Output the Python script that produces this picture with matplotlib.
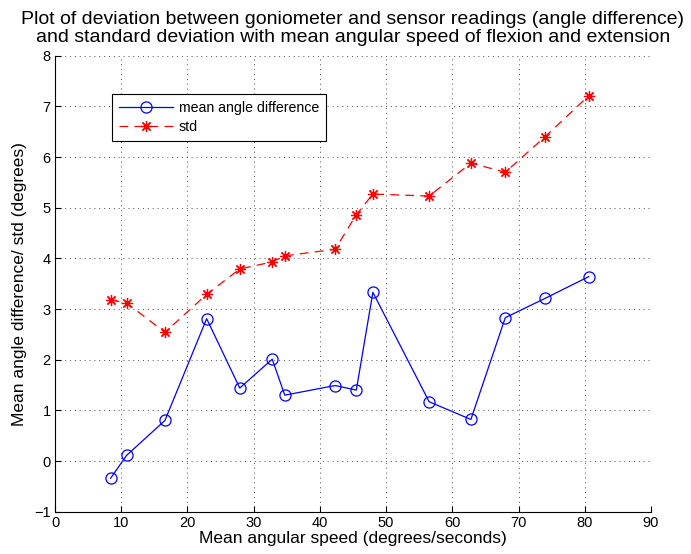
import matplotlib
matplotlib.use("Agg")
import matplotlib.pyplot as plt

plt.rcParams['font.family'] = ['Liberation Sans', 'DejaVu Sans']

# mean angular speed of flexion/extension (deg/s)
speed = [8.4, 10.8, 16.6, 22.9, 27.9, 32.8, 34.7, 42.3, 45.5, 48.0,
         56.5, 62.8, 68.0, 74.0, 80.6]
# mean angle difference between goniometer and sensor (deg)
mean_diff = [-0.34, 0.11, 0.80, 2.81, 1.44, 2.01, 1.30, 1.49, 1.40, 3.33,
             1.17, 0.82, 2.83, 3.21, 3.64]
# standard deviation of the difference (deg)
std_diff = [3.18, 3.12, 2.54, 3.29, 3.79, 3.93, 4.05, 4.18, 4.86, 5.27,
            5.23, 5.88, 5.70, 6.40, 7.21]

xticks = list(range(0, 91, 10))
yticks = list(range(-1, 9))

fig = plt.figure(figsize=(6.91, 5.54), dpi=100)
ax = fig.add_axes([0.0796, 0.0764, 0.8625, 0.823])

ax.plot(speed, mean_diff, color='blue', linestyle='-', linewidth=0.9,
        marker='o', markersize=8, markerfacecolor='none',
        markeredgecolor='blue', markeredgewidth=0.9,
        label='mean angle difference')
ax.plot(speed, std_diff, color='red', linestyle=(0, (7, 5)), linewidth=0.9,
        marker=(8, 2, 0), markersize=8, markeredgecolor='red',
        markeredgewidth=0.9, label='std')

ax.set_xlim(0, 90)
ax.set_ylim(-1, 8)
ax.set_xticks(xticks)
ax.set_yticks(yticks)
ax.tick_params(direction='in', labelsize=10.5, length=4, width=0.8, pad=3)
ax.grid(True, linestyle=(0, (1, 4)), color='0.3', linewidth=0.7)
ax.spines['top'].set_visible(False)
ax.spines['right'].set_visible(False)

ax.set_xlabel('Mean angular speed (degrees/seconds)', fontsize=12.5, labelpad=1)
ax.set_ylabel('Mean angle difference/ std (degrees)', fontsize=12.5, labelpad=5)
ax.set_title('Plot of deviation between goniometer and sensor readings (angle difference)\n'
             'and standard deviation with mean angular speed of flexion and extension',
             fontsize=14, linespacing=1.08, pad=10)

leg = ax.legend(loc='upper left', bbox_to_anchor=(0.096, 0.917), fontsize=10.2,
                fancybox=False, edgecolor='black', framealpha=1,
                handlelength=3.8, handletextpad=0.4, borderpad=0.5,
                labelspacing=0.4, borderaxespad=0)
leg.get_frame().set_linewidth(0.8)

fig.savefig('out.png', dpi=100)
